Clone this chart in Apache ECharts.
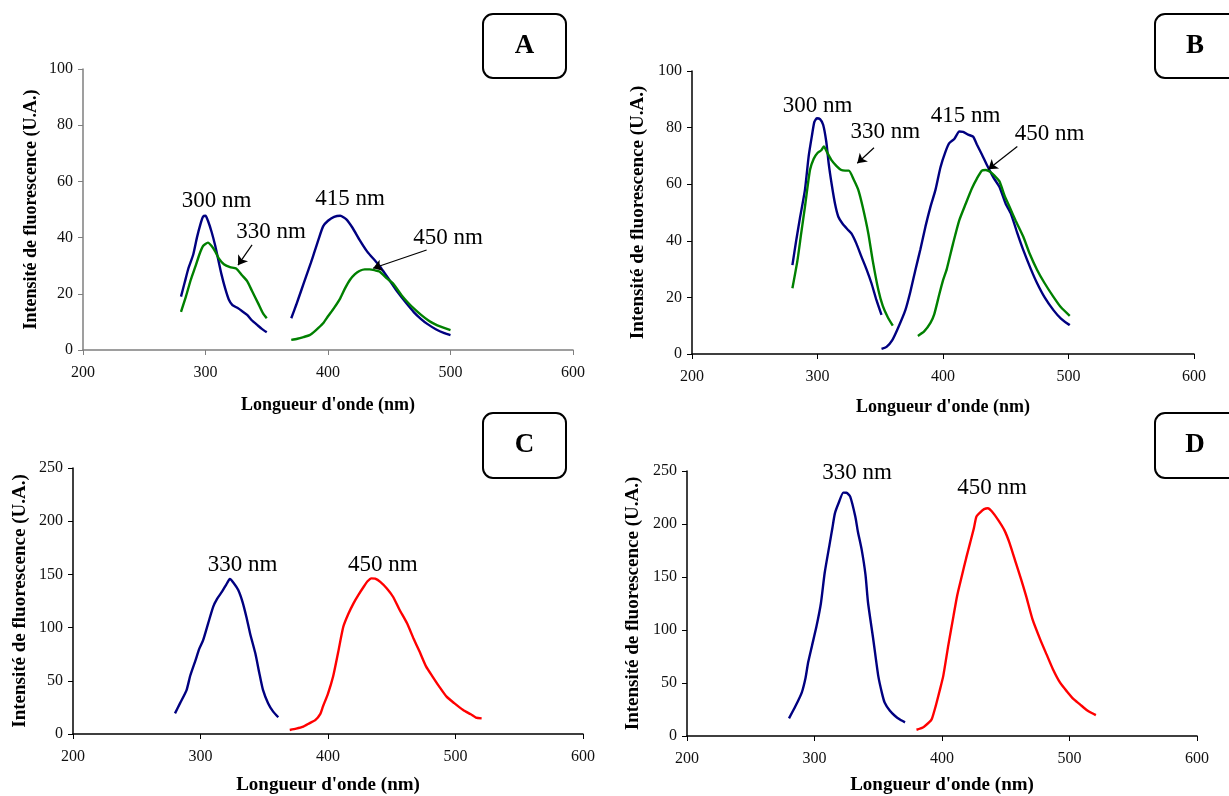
<!DOCTYPE html>
<html>
<head>
<meta charset="utf-8">
<script src="https://cdn.jsdelivr.net/npm/echarts@6/dist/echarts.min.js"></script>
<style>html,body{margin:0;padding:0;background:#fff}#c{width:1229px;height:796px}</style>
</head>
<body>
<div id="c"></div>
<script>
// ---- Data (wavelength nm, intensity U.A.) ----
var A_blue1 = [[280,19],[283,24],[286,29],[290,34],[293,40],[296,45],[298,47.5],[300,47.8],[302,46],[305,42],[308,37],[310,33],[313,27],[316,22],[319,18],[322,16],[326,15],[330,13.8],[334,12.5],[338,10.5],[342,9],[346,7.5],[350,6.3]];
var A_green1 = [[280,13.6],[284,19],[288,25],[292,30],[295,34],[298,37],[302,38.2],[305,37],[308,35],[311,32.5],[315,30.5],[320,29.5],[325,29],[330,26.5],[334,24.5],[338,21],[343,16.6],[347,13],[350,11.3]];
var A_blue2 = [[370,11.3],[374,16],[378,21],[382,26],[386,31],[389,35],[392,39],[396,44],[400,46],[405,47.4],[410,47.8],[415,46.5],[420,43.5],[426,39],[432,35],[438,32],[442,30],[446,27.5],[450,25],[457,20.5],[464,16.6],[470,13.5],[476,11],[481,9.3],[488,7.4],[495,6],[500,5.3]];
var A_green2 = [[370,3.6],[375,4],[380,4.6],[385,5.3],[390,7],[396,9.5],[400,12],[405,15],[410,18.4],[414,22],[418,25],[422,27],[426,28.2],[430,28.7],[434,28.7],[438,28.4],[442,27.9],[448,25.5],[453,23.7],[460,19.5],[465,17],[470,14.8],[476,12.5],[482,10.5],[486,9.5],[492,8.3],[500,7.1]];

var B_blue1 = [[280,31.4],[283,40],[286,48],[290,58],[293,70],[295.5,77],[297.5,82],[299.5,83.3],[302,83],[304.5,81],[307,75],[309,67],[311.3,60],[314,53],[316.6,48.5],[320,46],[324,44],[327,42.6],[331,39],[335,34.4],[339,30],[343,25],[347,19],[351,13.8]];
var B_green1 = [[280,23.2],[284,33],[287,42.6],[290,52],[294,65],[297,69],[300,71],[303,72],[305,73.3],[308,71],[311,68.6],[315,66.5],[319,65],[322,64.8],[325,64.8],[329,61.5],[332.5,58],[336,52],[340.5,42.6],[344,33],[348.5,22.6],[352,17],[356,13],[360,10]];
var B_blue2 = [[351,1.8],[355,2.5],[359.6,4.9],[364,9],[370,15.5],[374,22],[378,29.7],[382,37],[386,45],[390,52],[394,58],[398,66],[402,71.5],[405,74.5],[409,76],[413,78.6],[416,78.5],[420,77.5],[424,76.8],[427,74],[431,70.5],[435,66.8],[440,62.5],[445,59],[450,53],[454,49.7],[459,43],[464,36.7],[470,30],[475,25],[481,20],[488,15.5],[494,12.5],[501,10.2]];
var B_green2 = [[380,6.4],[385,8],[390,11],[393,14],[397,21],[400,26],[403,30],[408,39],[413,47.3],[418,53],[423,58.5],[427,62],[431,64.8],[434,65],[437.5,64.4],[441,63],[445,61],[449,56],[453,52],[458,47],[464,41.4],[469,35.5],[475,29.7],[481,25],[488,20.2],[494,16.5],[501,13.5]];

var C_blue = [[280,19.4],[284,29],[289,41],[292,55],[296,69],[299,80],[302,88],[306,104],[310,119.7],[313,127],[317,134],[320,140],[323,145.7],[326,142],[329.6,135.3],[333,124],[336,110],[339,94],[343,75.8],[346,58],[349,41.4],[353,29],[357,21],[361,15.7]];
var C_red = [[370,3.8],[375,5],[380,6.6],[386,10.5],[390,13],[394,19],[396,25.7],[400,38],[404,54],[408,77],[412,100.8],[416,113],[420,122.8],[424,131],[428,138.4],[431,143.5],[434,146.3],[437,146],[441,143],[446,137],[451,129],[456,117],[462,104],[467,90],[472,77],[477,63.3],[482,54],[487,45],[493,35.1],[499,29],[506,22.6],[512,18.5],[516,15.5],[520.5,14.7]];

var D_blue = [[280,16.6],[285,28],[290,41],[293,55],[295,69.3],[298,85],[301.6,103.7],[305,125],[308,154],[312,182],[314,196],[316,210],[319,220],[322.6,229.6],[325,229.5],[328,225.8],[332,207],[334,193],[337,175.8],[340,152],[342,125.7],[346,92],[350,56.7],[353,40],[355,31.7],[359,24],[363,19.1],[367,15.5],[371,12.9]];
var D_red = [[380,5.9],[385,8],[390,13],[392,16],[395,28],[398,42],[401,56.7],[405,86],[409,113.1],[412,133],[415.5,150.7],[419,168],[422,182],[425,196],[427,207],[430,211],[433,214],[436,214.9],[439,212],[444,203.9],[449,194],[453,182],[458,163],[462,148],[466,131.9],[471,110],[477,91.2],[482,77],[487,63],[492.5,50.5],[498,42],[503,35],[508,30.1],[514,24],[520.7,19.7]];

// annotation texts with their data-space anchor
var A_labels = [{name:'300 nm', value:[309,53]},{name:'330 nm', value:[353.5,42]},{name:'415 nm', value:[418,53.7]},{name:'450 nm', value:[498,40]}];
var B_labels = [{name:'300 nm', value:[300,87.6]},{name:'330 nm', value:[354,78.4]},{name:'415 nm', value:[418,84.1]},{name:'450 nm', value:[485,77.7]}];
var C_labels = [{name:'330 nm', value:[333,158.8]},{name:'450 nm', value:[443,158.8]}];
var D_labels = [{name:'330 nm', value:[333.3,247.7]},{name:'450 nm', value:[439.2,233.6]}];
// arrows (from, to)
var A_arrows = [[[338,37.4],[326.5,30.2]],[[480.5,35.6],[436.8,29.1]]];
var B_arrows = [[[345,72.9],[331.7,67.4]],[[459.2,73.3],[436.1,65.3]]];

var xTicks = {min:200, max:600, interval:100};
var yTicksAB = {min:0, max:100, interval:20};
var yTicksCD = {min:0, max:250, interval:50};

var SERIF = '"Liberation Serif","Times New Roman",serif';
var NAVY = '#000080', GREEN = '#008000', RED = '#ff0000';

var grids = [
  {left:83, top:69, width:490, height:281},
  {left:692, top:71, width:502, height:283},
  {left:73, top:468, width:510, height:266},
  {left:687, top:471, width:510, height:266}
];
var axisColors = ['#7f7f7f','#000','#000','#000'];
var xGaps = [46,44,42,40];
var yGaps = [43,44,43,44];
var xNameSize = [18,18,19,19];
var yNameSize = [18,19,19,19];

var xAxes = [], yAxes = [];
grids.forEach(function(g,i){
  var c = axisColors[i];
  xAxes.push({type:'value', gridIndex:i, min:xTicks.min, max:xTicks.max, interval:xTicks.interval,
    name:"Longueur d'onde (nm)", nameLocation:'middle', nameGap:xGaps[i],
    nameTextStyle:{fontFamily:SERIF, fontWeight:'bold', fontSize:xNameSize[i], color:'#000'},
    axisLine:{show:true, onZero:false, lineStyle:{color:c, width:1.5}},
    axisTick:{show:true, length:5, lineStyle:{color:c}},
    axisLabel:{fontFamily:SERIF, fontSize:16, color:'#111', margin:15},
    splitLine:{show:false}});
  var yt = i<2 ? yTicksAB : yTicksCD;
  yAxes.push({type:'value', gridIndex:i, min:yt.min, max:yt.max, interval:yt.interval,
    name:'Intensité de fluorescence (U.A.)', nameLocation:'middle', nameGap:yGaps[i],
    nameTextStyle:{fontFamily:SERIF, fontWeight:'bold', fontSize:yNameSize[i], color:'#000'},
    axisLine:{show:true, lineStyle:{color:c, width:1.5}},
    axisTick:{show:true, length:5, lineStyle:{color:c}},
    axisLabel:{fontFamily:SERIF, fontSize:16, color:'#111', margin:10},
    splitLine:{show:false}});
});

function line(data, color, gi, arrows){
  var s = {type:'line', xAxisIndex:gi, yAxisIndex:gi, data:data, showSymbol:false, symbol:'none',
    smooth:0.2, lineStyle:{color:color, width:2.4}, silent:true, animation:false};
  if(arrows){
    s.markLine = {silent:true, animation:false, symbol:['none','arrow'], symbolSize:9,
      lineStyle:{color:'#000', width:1.2, type:'solid'}, itemStyle:{color:'#000'}, label:{show:false},
      data: arrows.map(function(a){return [{coord:a[0]},{coord:a[1]}];})};
  }
  return s;
}
function labels(data, gi){
  return {type:'scatter', xAxisIndex:gi, yAxisIndex:gi, data:data, symbolSize:1, itemStyle:{color:'#fff', opacity:0},
    silent:true, animation:false,
    label:{show:true, position:'inside', formatter:'{b}', fontFamily:SERIF, fontSize:23, color:'#000',
      textBorderWidth:0, opacity:1}};
}

var series = [
  line(A_blue1, NAVY, 0), line(A_green1, GREEN, 0, A_arrows), line(A_blue2, NAVY, 0), line(A_green2, GREEN, 0),
  line(B_blue1, NAVY, 1), line(B_green1, GREEN, 1, B_arrows), line(B_blue2, NAVY, 1), line(B_green2, GREEN, 1),
  line(C_blue, NAVY, 2), line(C_red, RED, 2),
  line(D_blue, NAVY, 3), line(D_red, RED, 3),
  labels(A_labels,0), labels(B_labels,1), labels(C_labels,2), labels(D_labels,3)
];

function box(x,y,w,h,letter,cx){
  return {type:'group', children:[
    {type:'rect', shape:{x:x,y:y,width:w,height:h,r:10}, style:{fill:'#fff', stroke:'#000', lineWidth:2}},
    {type:'text', style:{x:cx, y:y+h/2, text:letter, textAlign:'center', textVerticalAlign:'middle',
      font:'bold 27px ' + SERIF, fill:'#000'}}
  ]};
}

var chart = echarts.init(document.getElementById('c'), null, {renderer:'canvas'});
chart.setOption({
  animation:false,
  backgroundColor:'#fff',
  grid:grids,
  xAxis:xAxes,
  yAxis:yAxes,
  series:series,
  graphic:[
    box(483,14,83,64,'A',524.5),
    box(1155,14,90,64,'B',1195),
    box(483,413,83,65,'C',524.5),
    box(1155,413,90,65,'D',1195)
  ]
});
</script>
</body>
</html>
